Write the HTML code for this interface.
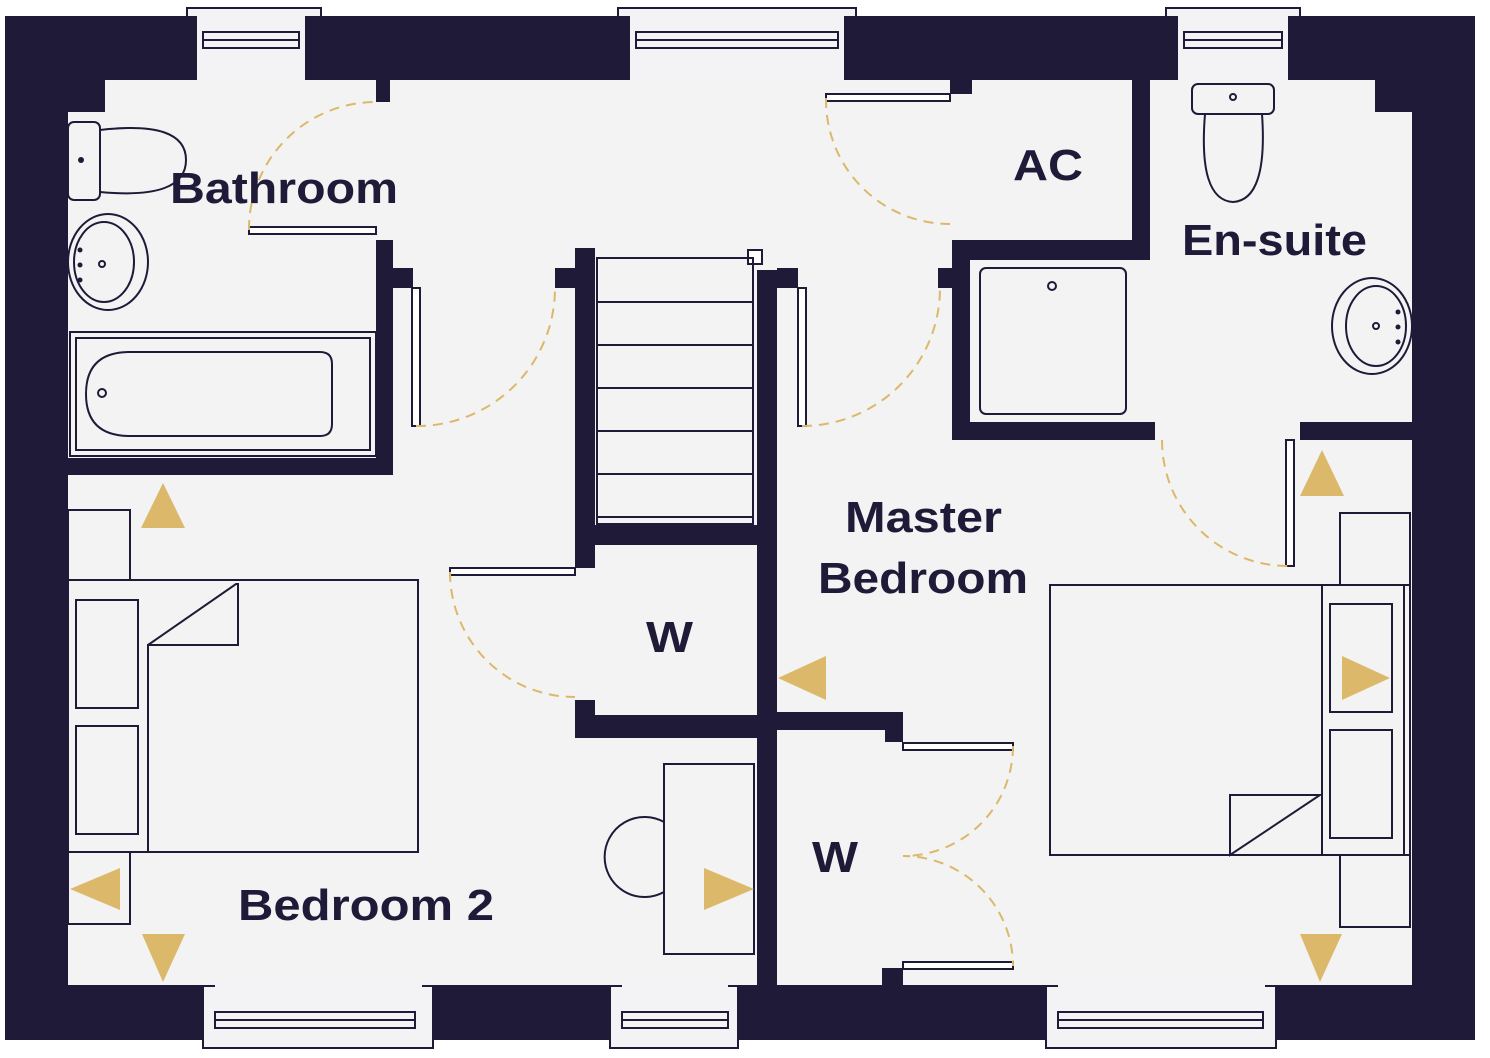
<!DOCTYPE html><html><head><style>body{margin:0;background:#fff}svg{display:block}text{font-family:"Liberation Sans",sans-serif;font-weight:bold;fill:#1e1a38}</style></head><body>
<svg width="1490" height="1058" viewBox="0 0 1490 1058" xmlns="http://www.w3.org/2000/svg">
<rect x="5" y="16" width="1470" height="1024" fill="#1e1a38"/>
<path d="M105 80H1375V112H1412V985H68V112H105Z" fill="#f3f3f3"/>
<g fill="#f3f3f5" stroke="#1e1a38" stroke-width="2">
<rect x="187" y="8" width="134" height="9"/><rect x="618" y="8" width="238" height="9"/><rect x="1166" y="8" width="134" height="9"/>
<rect x="203" y="986" width="230" height="62"/><rect x="610" y="986" width="128" height="62"/><rect x="1046" y="986" width="230" height="62"/>
</g>
<g fill="#f3f3f5"><rect x="197" y="16" width="108" height="66"/><rect x="630" y="16" width="214" height="66"/><rect x="1178" y="16" width="110" height="66"/>
<rect x="215" y="980" width="207" height="10"/><rect x="622" y="980" width="106" height="10"/><rect x="1058" y="980" width="207" height="10"/></g>
<g fill="none" stroke="#1e1a38" stroke-width="2">
<rect x="203" y="32" width="96" height="8"/><rect x="203" y="40" width="96" height="8"/>
<rect x="636" y="32" width="202" height="8"/><rect x="636" y="40" width="202" height="8"/>
<rect x="1184" y="32" width="98" height="8"/><rect x="1184" y="40" width="98" height="8"/>
<rect x="215" y="1012" width="200" height="8"/><rect x="215" y="1020" width="200" height="8"/>
<rect x="622" y="1012" width="106" height="8"/><rect x="622" y="1020" width="106" height="8"/>
<rect x="1058" y="1012" width="205" height="8"/><rect x="1058" y="1020" width="205" height="8"/>
</g>
<g fill="#1e1a38">
<rect x="376" y="80" width="14" height="22"/>
<rect x="376" y="240" width="17" height="235"/><rect x="68" y="458" width="325" height="17"/>
<rect x="575" y="248" width="20" height="320"/><rect x="757" y="270" width="20" height="715"/>
<rect x="595" y="525" width="162" height="20"/>
<rect x="575" y="715" width="182" height="23"/><rect x="575" y="700" width="20" height="38"/>
<rect x="777" y="712" width="126" height="18"/><rect x="885" y="712" width="18" height="30"/>
<rect x="1132" y="80" width="18" height="180"/><rect x="952" y="240" width="198" height="20"/>
<rect x="952" y="240" width="18" height="200"/><rect x="952" y="422" width="203" height="18"/>
<rect x="1300" y="422" width="112" height="18"/>
<rect x="950" y="80" width="22" height="14"/>
<rect x="393" y="268" width="20" height="20"/><rect x="555" y="268" width="20" height="20"/>
<rect x="777" y="268" width="21" height="20"/><rect x="938" y="268" width="14" height="20"/>
<rect x="882" y="968" width="21" height="17"/>
</g>
<g fill="#fff" stroke="#1e1a38" stroke-width="2">
<rect x="249" y="227" width="127" height="7"/><rect x="412" y="288" width="8" height="138"/>
<rect x="798" y="288" width="8" height="138"/><rect x="826" y="94" width="124" height="7"/>
<rect x="450" y="568" width="125" height="7"/><rect x="903" y="743" width="110" height="7"/>
<rect x="903" y="962" width="110" height="7"/><rect x="1286" y="440" width="8" height="126"/>
<rect x="748" y="250" width="14" height="14"/>
</g>
<g fill="none" stroke="#dcb86a" stroke-width="2" stroke-dasharray="10 7">
<path d="M249 230A127 127 0 0 1 376 102"/><path d="M416 426A138 138 0 0 0 555 288"/>
<path d="M802 426A138 138 0 0 0 940 288"/><path d="M826 98A124 124 0 0 0 950 224"/>
<path d="M450 572A125 125 0 0 0 575 697"/><path d="M1013 746A110 110 0 0 1 903 856A110 110 0 0 1 1013 966"/>
<path d="M1162 440A126 126 0 0 0 1290 566"/>
</g>
<g fill="none" stroke="#1e1a38" stroke-width="2">
<rect x="597" y="258" width="156" height="266"/>
<path d="M597 302H753M597 345H753M597 388H753M597 431H753M597 474H753M597 517H753"/>
<rect x="68" y="122" width="32" height="78" rx="6"/><path d="M100 130Q186 120 186 160Q186 200 100 192"/>
<ellipse cx="108" cy="262" rx="40" ry="48"/><ellipse cx="104" cy="262" rx="30" ry="40"/>
<rect x="70" y="332" width="306" height="124"/><rect x="76" y="338" width="294" height="112"/><path d="M130 352H320Q332 352 332 364V424Q332 436 320 436H130Q86 436 86 394Q86 352 130 352Z"/>
<rect x="1192" y="84" width="82" height="30" rx="6"/><path d="M1205 114Q1198 200 1233 202Q1268 200 1262 114"/>
<rect x="980" y="268" width="146" height="146" rx="6"/>
<ellipse cx="1372" cy="326" rx="40" ry="48"/><ellipse cx="1376" cy="326" rx="30" ry="40"/>
<rect x="68" y="510" width="62" height="70"/><rect x="68" y="580" width="350" height="272"/>
<path d="M148 852V645H238V584H236L148 645"/>
<rect x="76" y="600" width="62" height="108"/><rect x="76" y="726" width="62" height="108"/>
<rect x="68" y="852" width="62" height="72"/>
<rect x="664" y="764" width="90" height="190"/><path d="M664 822A40 40 0 1 0 664 892"/>
<rect x="1050" y="585" width="360" height="270"/><rect x="1340" y="513" width="70" height="72"/>
<rect x="1330" y="604" width="62" height="108"/><rect x="1330" y="730" width="62" height="108"/>
<rect x="1322" y="585" width="82" height="270"/><rect x="1340" y="855" width="70" height="72"/>
<path d="M1230 855V795H1320Z"/>
</g>
<g fill="#1e1a38"><circle cx="81" cy="160" r="3"/><circle cx="80" cy="250" r="2.5"/><circle cx="80" cy="265" r="2.5"/><circle cx="80" cy="280" r="2.5"/><circle cx="1398" cy="312" r="2.5"/><circle cx="1398" cy="327" r="2.5"/><circle cx="1398" cy="342" r="2.5"/></g>
<g fill="none" stroke="#1e1a38" stroke-width="2"><circle cx="102" cy="393" r="4"/><circle cx="102" cy="264" r="3"/><circle cx="1233" cy="97" r="3"/><circle cx="1052" cy="286" r="4"/><circle cx="1376" cy="326" r="3"/></g>
<g fill="#dcb86a">
<path d="M163 483L185 528H141Z"/><path d="M1322 450L1344 496H1300Z"/>
<path d="M70 889L120 868V910Z"/><path d="M778 678L826 656V700Z"/>
<path d="M754 889L704 868V910Z"/><path d="M1390 678L1342 656V700Z"/>
<path d="M163 982L142 934H185Z"/><path d="M1320 982L1300 934H1342Z"/>
</g>
<text x="170" y="203" font-size="44" textLength="228" lengthAdjust="spacingAndGlyphs">Bathroom</text>
<text x="1013" y="180" font-size="44" textLength="70" lengthAdjust="spacingAndGlyphs">AC</text>
<text x="1182" y="255" font-size="44" textLength="185" lengthAdjust="spacingAndGlyphs">En-suite</text>
<text x="845" y="532" font-size="44" textLength="157" lengthAdjust="spacingAndGlyphs">Master</text>
<text x="818" y="593" font-size="44" textLength="210" lengthAdjust="spacingAndGlyphs">Bedroom</text>
<text x="646" y="652" font-size="44" textLength="47" lengthAdjust="spacingAndGlyphs">W</text>
<text x="812" y="872" font-size="44" textLength="46" lengthAdjust="spacingAndGlyphs">W</text>
<text x="238" y="920" font-size="44" textLength="256" lengthAdjust="spacingAndGlyphs">Bedroom 2</text>
</svg></body></html>
